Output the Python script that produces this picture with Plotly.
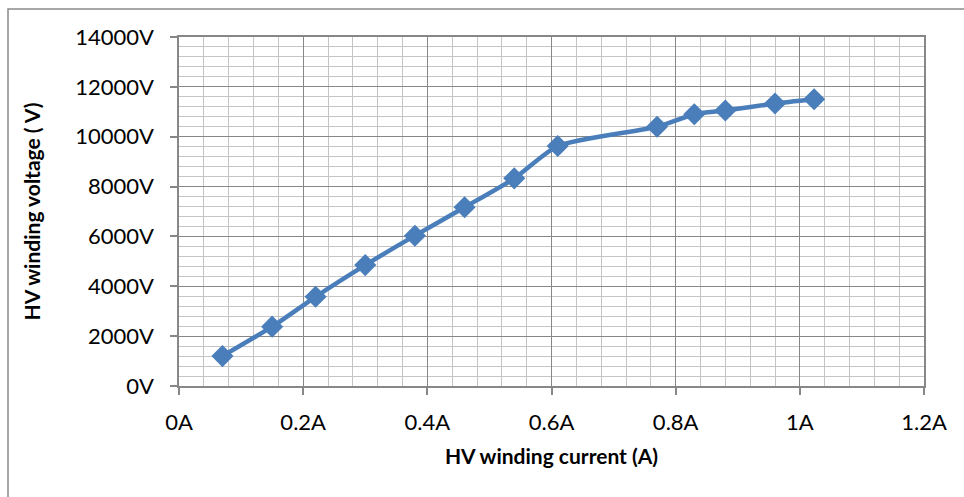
import plotly.graph_objects as go

current_A = [0.07, 0.15, 0.22, 0.30, 0.38, 0.46, 0.54, 0.61, 0.77, 0.83, 0.88, 0.96, 1.023]
voltage_V = [1200, 2380, 3580, 4850, 6030, 7170, 8330, 9630, 10400, 10900, 11050, 11330, 11500]

x_title = "HV winding current (A)"
y_title = "HV winding voltage ( V)"

FONT = "Lato, Calibri, Carlito, sans-serif"
BLUE = "#4a7ebb"
MAJOR = "#878787"
MINOR = "#c4c4c4"

fig = go.Figure()
fig.add_trace(go.Scatter(
    x=current_A, y=voltage_V, mode="lines+markers",
    line=dict(color=BLUE, width=4.5, shape="spline", smoothing=0.6),
    marker=dict(symbol="diamond", size=17, color=BLUE),
    showlegend=False, hoverinfo="skip"))

axis_common = dict(
    showline=True, linecolor=MAJOR, linewidth=1.5, mirror=True,
    showgrid=True, gridcolor=MAJOR, gridwidth=1.2,
    zeroline=False, ticks="outside", ticklen=7, tickcolor=MAJOR, tickwidth=1.5,
    tickfont=dict(family=FONT, size=22, color="#000000"),
)

fig.update_xaxes(
    range=[0, 1.2], dtick=0.2, tick0=0, ticksuffix="A",
    minor=dict(dtick=0.04, showgrid=True, gridcolor=MINOR, gridwidth=1.2),
    title=dict(text="<b>" + x_title + "</b>", font=dict(family=FONT, size=21, color="#000000"), standoff=15),
    ticklabelstandoff=9,
    **axis_common)
fig.update_yaxes(
    range=[0, 14000], dtick=2000, tick0=0, ticksuffix="V", tickformat="d",
    minor=dict(dtick=400, showgrid=True, gridcolor=MINOR, gridwidth=1.2),
    title=dict(text="<b>" + y_title + "</b>", font=dict(family=FONT, size=21, color="#000000"), standoff=29),
    ticklabelstandoff=12,
    **axis_common)

fig.add_shape(type="rect", xref="paper", yref="paper",
              x0=(8 - 179) / 745, x1=1.2, y0=-0.5, y1=(386 - 9) / 349,
              line=dict(color="#8a8a8a", width=1.5), fillcolor="rgba(0,0,0,0)", layer="below")

fig.update_layout(
    width=964, height=497,
    margin=dict(l=179, r=40, t=37, b=111),
    paper_bgcolor="white", plot_bgcolor="white",
    font=dict(family=FONT),
)

fig.write_html("out.html")
